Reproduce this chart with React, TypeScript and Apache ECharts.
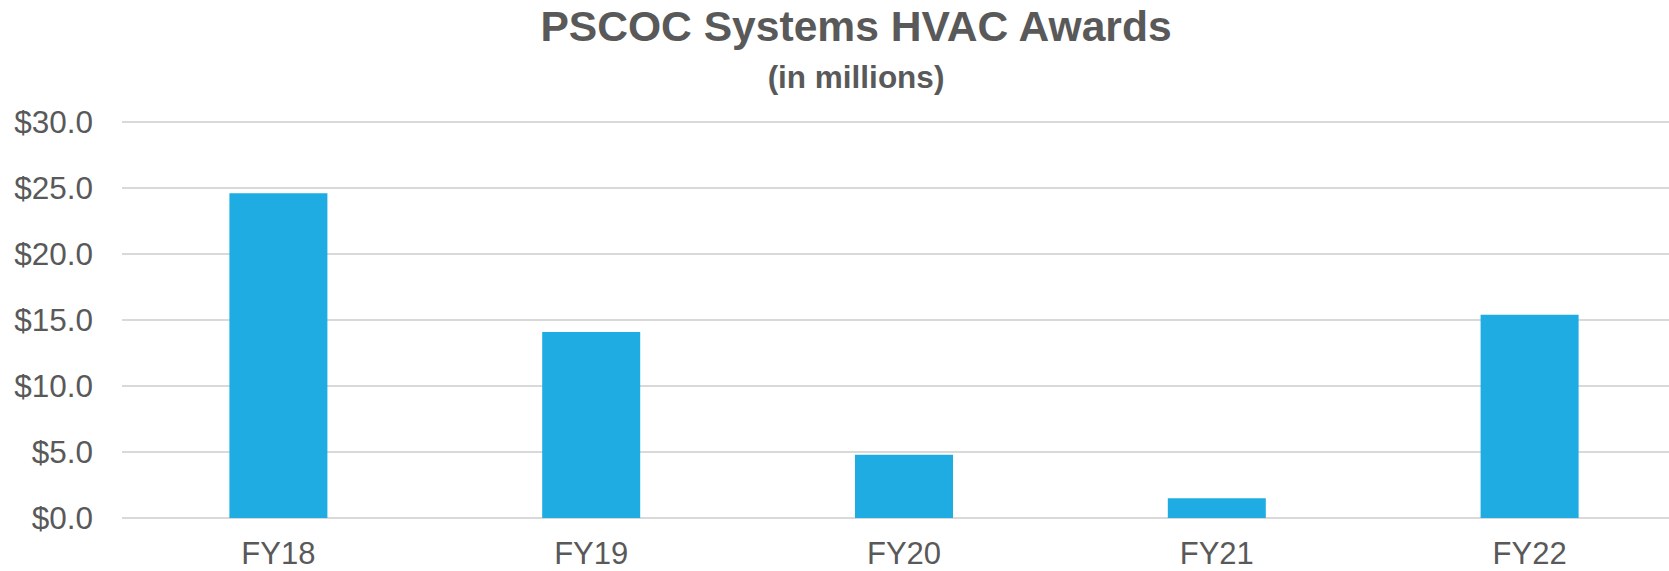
import React, { useEffect, useRef } from "react";
import * as echarts from "echarts";

const categories = ["FY18", "FY19", "FY20", "FY21", "FY22"];
const awards = [24.6, 14.1, 4.8, 1.5, 15.4];
const titleText = "PSCOC Systems HVAC Awards";
const subtitleText = "(in millions)";

const FONT = "'Liberation Sans', Arial, Helvetica, sans-serif";
const GRAY = "#595959";

export default function App() {
  const ref = useRef<HTMLDivElement>(null);
  useEffect(() => {
    if (!ref.current) return;
    const chart = echarts.init(ref.current, undefined, { renderer: "svg" });
    chart.setOption({
      animation: false,
      backgroundColor: "#ffffff",
      grid: { left: 122, right: 0, top: 122, bottom: 53, containLabel: false },
      graphic: [
        {
          type: "text",
          x: 856,
          y: 26,
          style: {
            text: titleText,
            textAlign: "center",
            textVerticalAlign: "middle",
            fontSize: 42.6,
            fontWeight: "bold",
            fontFamily: FONT,
            fill: GRAY,
          },
        },
        {
          type: "text",
          x: 856,
          y: 77,
          style: {
            text: subtitleText,
            textAlign: "center",
            textVerticalAlign: "middle",
            fontSize: 31.5,
            fontWeight: "bold",
            fontFamily: FONT,
            fill: GRAY,
          },
        },
      ],
      xAxis: {
        type: "category",
        data: categories,
        axisLine: { show: false },
        axisTick: { show: false },
        axisLabel: { color: GRAY, fontSize: 31, fontFamily: FONT, margin: 19.5 },
      },
      yAxis: {
        type: "value",
        min: 0,
        max: 30,
        interval: 5,
        axisLine: { show: false },
        axisTick: { show: false },
        splitLine: { lineStyle: { color: "#d9d9d9", width: 2 } },
        axisLabel: {
          color: GRAY,
          fontSize: 31.5,
          fontFamily: FONT,
          margin: 29,
          formatter: (v: number) => "$" + v.toFixed(1),
        },
      },
      series: [
        {
          type: "bar",
          data: awards,
          barWidth: 98,
          itemStyle: { color: "#1eace2" },
        },
      ],
    });
    return () => chart.dispose();
  }, []);
  return (
    <div
      style={{
        position: "absolute",
        left: 0,
        top: 0,
        width: 1669,
        height: 571,
        overflow: "hidden",
      }}
    >
      <div ref={ref} style={{ width: 1686, height: 571 }} />
    </div>
  );
}
